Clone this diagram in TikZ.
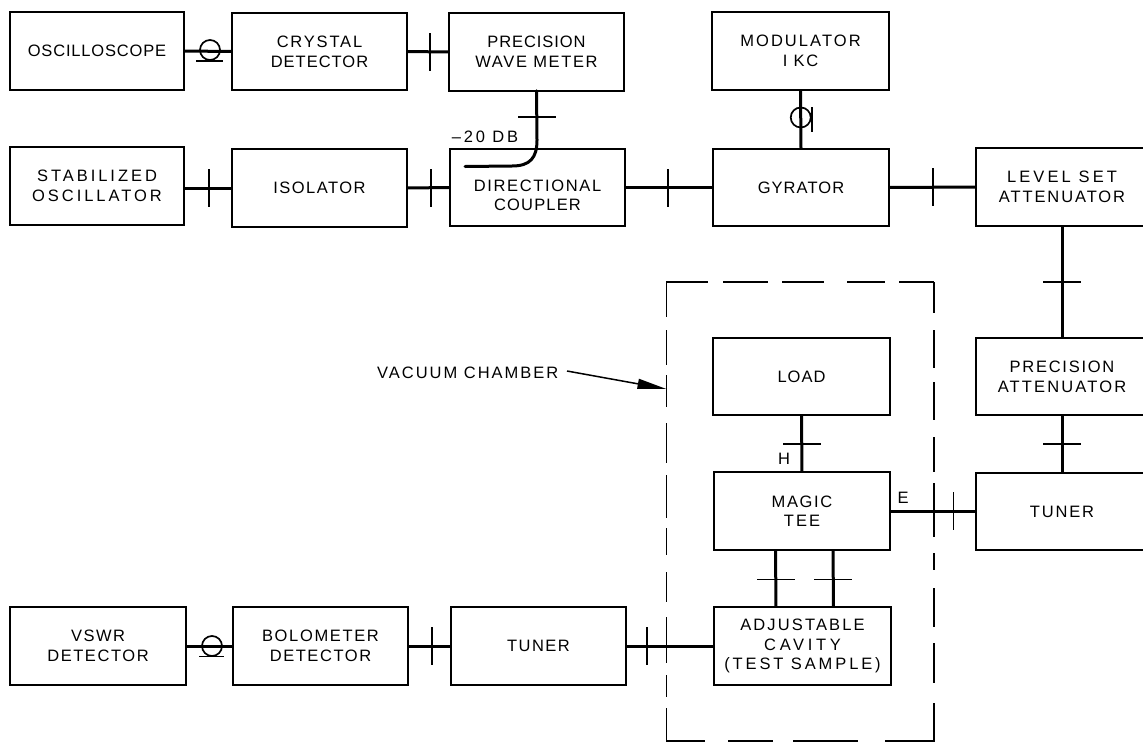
\documentclass[tikz,border=0pt]{standalone}
\usepackage{fontspec}
\setmainfont{Liberation Sans}
\newcommand{\ls}[2]{{\addfontfeature{LetterSpace=#1}#2}}
\usetikzlibrary{arrows.meta,positioning}
\tikzset{
  x=1pt,y=-1pt,
  blk/.style={draw=black,line width=1.7pt,rectangle,outer sep=0pt,inner sep=0pt,align=center,
    minimum width=#1,minimum height=77.5pt,font=\fontsize{16.5}{20}\selectfont},
  blk/.default=175pt,
  wg/.style={line width=3pt,draw=black},
  tickv/.style={fill=black,inner sep=0pt,outer sep=0pt,minimum width=1.6pt,minimum height=38pt},
  tickh/.style={fill=black,inner sep=0pt,outer sep=0pt,minimum height=1.6pt,minimum width=38pt},
  ring/.style={circle,draw=black,line width=1.7pt,inner sep=0pt,outer sep=0pt,minimum size=20pt},
  bar/.style={line width=1.7pt,draw=black},
  dsh/.style={line width=1.5pt,draw=black},
  lab/.style={inner sep=0pt,font=\fontsize{16.5}{20}\selectfont},
}
\begin{document}
\begin{tikzpicture}
\useasboundingbox (0,0) rectangle (1143,742);
\fill[white] (0,0) rectangle (1143,742);
\clip (0,0) rectangle (1143,742);

% blocks
\node[blk=174pt] (osc) at (97,51) {\ls{5}{OSCILLOSCOPE}};
\node[blk] (cry) at (319.5,51.5) {\ls{11}{CRYSTAL}\\\ls{6}{DETECTOR}};
\node[blk=175pt] (wave) at (536.5,52) {\ls{5.5}{PRECISION}\\\ls{10}{WAVE METER}};
\node[blk=177pt] (mod) at (800.5,51) {\ls{12.5}{MODULATOR}\\\ls{10}{I KC}};
\node[blk=174pt] (stab) at (97,186) {\ls{18}{STABILIZED}\\\ls{18}{OSCILLATOR}};
\node[blk] (iso) at (319.5,188) {\ls{9}{ISOLATOR}};
\node[blk,font=\fontsize{16.5}{18.5}\selectfont] (dir) at (537.5,187.5) {\rule{0pt}{27pt}\ls{10}{DIRECTIONAL}\\\ls{7}{COUPLER}};
\node[blk=176pt] (gyr) at (801,187.5) {\ls{6.5}{GYRATOR}};
\node[blk=172pt] (lvl) at (1062,187) {\ls{19}{LEVEL SET}\\\ls{11.5}{ATTENUATOR}};
\node[blk=177pt] (load) at (801.5,376.5) {\ls{6}{LOAD}};
\node[blk=172pt] (prec) at (1062,376.5) {\ls{10.5}{PRECISION}\\\ls{13}{ATTENUATOR}};
\node[blk=176pt,font=\fontsize{16.5}{19}\selectfont] (tee) at (802,511) {\ls{10}{MAGIC}\\\ls{12}{TEE}};
\node[blk=172pt] (tunr) at (1062,511.5) {\ls{11}{TUNER}};
\node[blk=177pt,font=\fontsize{16.5}{19.5}\selectfont] (cav) at (802.5,646) {\ls{13}{ADJUSTABLE}\\\ls{22}{CAVITY}\\\ls{17.5}{(TEST SAMPLE)}};
\node[blk=176pt] (vswr) at (98,646) {\ls{9}{VSWR}\\\ls{9.5}{DETECTOR}};
\node[blk] (bol) at (320.5,646) {\ls{10}{BOLOMETER}\\\ls{9.5}{DETECTOR}};
\node[blk] (tunl) at (538.5,646) {\ls{9}{TUNER}};

% vacuum chamber: an outline with the reference's own irregular dashes
\node[minimum width=268pt,minimum height=459pt,inner sep=0pt,outer sep=0pt] (chamber) at (800.5,511.5) {};
\foreach \a/\b in {666/708,723/768,782/824,847/885,899/934}
  \draw[dsh] (\a,282) -- (\b,282);
\foreach \a/\b in {666/705,728/773,793/858,885/935}
  \draw[dsh] (\a,741) -- (\b,741);
\foreach \a/\b in {282/317,330/365,375/407,423/463,475/518,528/555,572/602,617/663,675/697,708/741}
  \draw[dsh] (666.5,\a) -- (666.5,\b);
\foreach \a/\b in {282/313,330/368,382/420,437/472,483/537,553/570,588/627,643/683,703/741}
  \draw[dsh] (934,\a) -- (934,\b);
\node[lab,anchor=west] (vac) at (377,373) {\ls{12}{VACUUM CHAMBER}};
\coordinate (vacs) at (567,371);
\draw[line width=1.5pt,-{Triangle[length=29pt,width=10pt]}] (vacs) -- (chamber.west |- 0,389);

% horizontal waveguides
\draw[wg] (osc.east) -- (cry.west);
\draw[wg] (cry.east) -- node[pos=.55,tickv] (t1) {} (wave.west);
\draw[wg] (stab.east |- iso.west) -- node[pos=.52,tickv] (t2) {} (iso.west);
\draw[wg] (iso.east) -- node[pos=.56,tickv] (t3) {} (dir.west);
\draw[wg] (dir.east) -- node[pos=.49,tickv] (t4) {} (gyr.west);
\draw[wg] (gyr.east) -- node[pos=.506,tickv] (t5) {} (lvl.west);
\draw[wg] (tee.east) -- node[pos=.736,tickv] (t6) {} (tee.east -| tunr.west);
\draw[wg] (vswr.east) -- (bol.west);
\draw[wg] (bol.east) -- node[pos=.56,tickv] (t7) {} (tunl.west);
\draw[wg] (tunl.east) -- node[pos=.24,tickv] (t8) {} (cav.west);

% vertical waveguides
\draw[wg] (mod.south) -- node[pos=.47,ring] (r1) {} (gyr.north);
\draw[wg] (lvl.south) -- node[pos=.5,tickh] (t9) {} (prec.north);
\draw[wg] (prec.south) -- node[pos=.5,tickh] (t10) {} (tunr.north);
\draw[wg] (load.south) -- node[pos=.5,tickh] (t11) {} (tee.north);
\draw[wg] ([xshift=-26.5pt]tee.south) -- node[pos=.52,tickh] (t12) {} ([xshift=-26.5pt]cav.north);
\draw[wg] ([xshift=31pt]tee.south) -- node[pos=.52,tickh] (t13) {} ([xshift=31pt]cav.north);

% coupler branch
\coordinate (cplend) at (465,166.5);
\coordinate (cplbend) at (537,140);
\draw[wg,line cap=round] (wave.south) -- node[pos=.53,tickh] (t14) {} (cplbend)
  .. controls (537,158) and (530,166) .. (512,166) -- (cplend);
\node[lab] (db) at (485,137) {\ls{17}{–20 DB}};

% rotary joints
\node[ring] (r2) at (210,50) {};
\draw[bar] (196,61) coordinate (b2a) -- (223,61) coordinate (b2b);
\node[ring] (r3) at (212,646) {};
\draw[bar] (199,656.5) coordinate (b3a) -- (224,656.5) coordinate (b3b);
\draw[bar] (812,107) coordinate (b1a) -- (812,132) coordinate (b1b);

% port labels
\node[lab] (h) at (784,459) {H};
\node[lab] (e) at (903,498) {E};
\end{tikzpicture}
\end{document}
